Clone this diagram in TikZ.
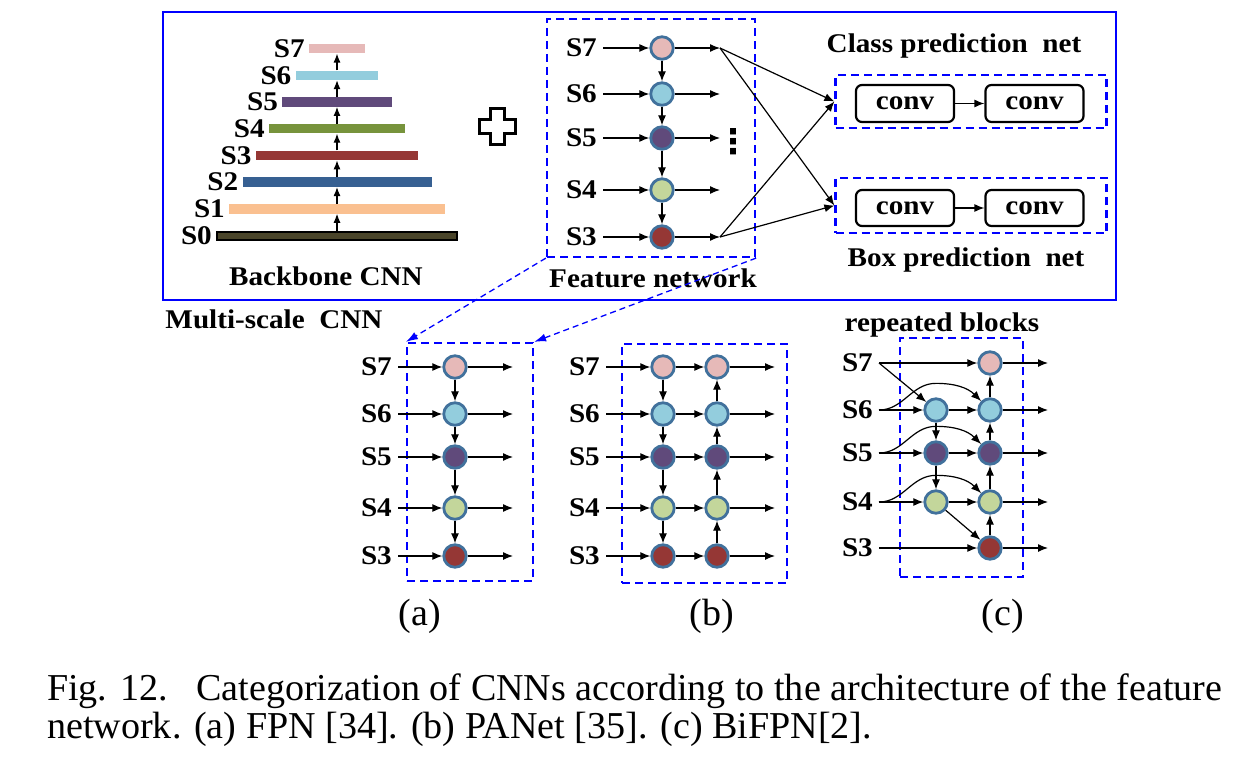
\documentclass[tikz,border=0pt]{standalone}
\usepackage{fontspec}
\usepackage{graphicx}
\setmainfont{Liberation Serif}
\newfontfamily\figfont{Liberation Serif}[FakeStretch=1.08]
\newfontfamily\symfont{DejaVu Sans}
\usetikzlibrary{arrows.meta,positioning,calc}
\definecolor{rowseven}{HTML}{E6B9B8}
\definecolor{rowsix}{HTML}{93CDDD}
\definecolor{rowfive}{HTML}{604A7B}
\definecolor{rowfour}{HTML}{C3D69B}
\definecolor{rowthree}{HTML}{953735}
\definecolor{barfour}{HTML}{77933C}
\definecolor{bartwo}{HTML}{376092}
\definecolor{barone}{HTML}{FAC090}
\definecolor{barzero}{HTML}{4A452A}
\definecolor{nodeedge}{HTML}{41719C}
\definecolor{netblue}{HTML}{0000FF}

\begin{document}
\begin{tikzpicture}[x=1pt, y=-1pt,
	lbl/.style={font=\figfont\bfseries\fontsize{27}{27}\selectfont, inner xsep=6pt, inner ysep=1pt, anchor=east},
	title/.style={font=\figfont\bfseries\fontsize{27}{27}\selectfont, inner sep=0pt, anchor=base},
	fnode/.style={circle, draw=nodeedge, line width=2.8pt, minimum size=22.5pt, inner sep=0pt},
	arr/.style={-{Latex[length=10pt,width=8pt]}, line width=1.2pt},
	bar/.style={inner sep=0pt, minimum height=9.5pt},
	dbox/.style={draw=netblue, line width=2.2pt, dash pattern=on 8pt off 5pt, inner sep=0pt},
	convbox/.style={draw, rounded corners=6pt, line width=2.2pt, minimum width=98pt, minimum height=37pt, inner sep=0pt, font=\figfont\bfseries\fontsize{27}{27}\selectfont},
	link/.style={draw=netblue, line width=1.3pt, dash pattern=on 6pt off 4pt, -{Latex[length=12pt,width=8pt]}},
	sub/.style={font=\fontsize{38}{38}\selectfont, inner sep=0pt, anchor=base},
]
\useasboundingbox (0,0) rectangle (1237,757);

% multi-scale CNN frame
\node[draw=netblue, line width=2.5pt, minimum width=953pt, minimum height=288pt, inner sep=0pt] (frame) at (639.5,156) {};

% backbone
\node[bar, fill=barzero, draw=black, line width=2pt, minimum width=240pt, minimum height=8pt] (b0) at (337,235.5) {};
\node[lbl, inner xsep=4pt] (bs0) at (b0.west) {S0};
\foreach \i/\col in {1/barone,2/bartwo,3/rowthree,4/barfour,5/rowfive,6/rowsix,7/rowseven} {
	\node[bar, fill=\col, minimum width={(56+26.6*(7-\i))*1pt}] (b\i) at (337,{235.5-26.7*\i}) {};
	\node[lbl, inner xsep=4pt] (bs\i) at (b\i.west) {S\i};
}
\foreach \i/\j in {0/1,1/2,2/3,3/4,4/5,5/6,6/7}
	\draw[-{Latex[length=9pt,width=7pt]}, line width=1.2pt] (b\i.north) -- (b\j.south);
\node[title] (backtitle) at (326,285) {Backbone CNN};

% plus
\draw[line width=3pt, fill=white, line join=miter] (497,127) ++(-7,-18) -- ++(14,0) -- ++(0,11) -- ++(11,0) -- ++(0,14) -- ++(-11,0) -- ++(0,11) -- ++(-14,0) -- ++(0,-11) -- ++(-11,0) -- ++(0,-14) -- ++(11,0) -- cycle;

% feature network
\node[dbox, minimum width=208pt, minimum height=238pt] (featbox) at (651,138) {};
\foreach \i/\y/\col in {7/48/rowseven,6/94/rowsix,5/138/rowfive,4/190/rowfour,3/237/rowthree} {
	\node[fnode, fill=\col] (fn\i) at (662,\y) {};
	\node[lbl] (fs\i) at (603,\y) {S\i};
	\coordinate (fo\i) at (720,\y);
	\draw[arr] (fs\i) -- (fn\i);
	\draw[arr] (fn\i) -- (fo\i);
}
\foreach \i/\j in {7/6,6/5,5/4,4/3}
	\draw[arr] (fn\i) -- (fn\j);
\node[font=\symfont\bfseries\fontsize{34}{34}\selectfont, inner sep=0pt] (dots) at (733,142) {⋮};
\node[title] (feattitle) at (653,287) {Feature network};

% prediction nets
\node[dbox, minimum width=271pt, minimum height=53pt] (classbox) at (971,101.5) {};
\node[dbox, minimum width=271pt, minimum height=55pt] (boxnet) at (971,205.5) {};
\node[convbox] (cc1) at (905,103.5) {conv};
\node[convbox] (cc2) at (1034.5,103.5) {conv};
\node[convbox, minimum height=36pt] (bc1) at (905,208) {conv};
\node[convbox, minimum height=36pt] (bc2) at (1034.5,208) {conv};
\draw[arr] (cc1) -- (cc2);
\draw[arr] (bc1) -- (bc2);
\draw[arr] (fo7) -- (classbox.west);
\draw[arr] (fo7) -- (boxnet.west);
\draw[arr] (fo3) -- (classbox.west);
\draw[arr] (fo3) -- (boxnet.west);
\node[title] (classtitle) at (954,53) {Class prediction\ \ net};
\node[title] (boxtitle) at (966,266) {Box prediction\ \ net};
\node[title] (msctitle) at (274,328) {Multi-scale\ \ CNN};

% (a) FPN
\node[dbox, minimum width=126pt, minimum height=238pt] (abox) at (470,462) {};
\foreach \i/\y/\col in {7/367/rowseven,6/414/rowsix,5/457/rowfive,4/508/rowfour,3/556/rowthree} {
	\node[fnode, fill=\col] (an\i) at (455,\y) {};
	\node[lbl] (as\i) at (398,\y) {S\i};
	\coordinate (ao\i) at (513,\y);
	\draw[arr] (as\i) -- (an\i);
	\draw[arr] (an\i) -- (ao\i);
}
\foreach \i/\j in {7/6,6/5,5/4,4/3}
	\draw[arr] (an\i) -- (an\j);
\node[sub] (alabel) at (420,625) {(a)};

% links
\draw[link] (featbox.south west) -- (abox.north west);
\draw[link] (featbox.south east) -- (abox.north east);

% (b) PANet
\node[dbox, minimum width=165pt, minimum height=239pt] (bbox) at (704.5,463.5) {};
\foreach \i/\y/\col in {7/367/rowseven,6/414/rowsix,5/457/rowfive,4/508/rowfour,3/556/rowthree} {
	\node[fnode, fill=\col] (bl\i) at (663,\y) {};
	\node[fnode, fill=\col] (br\i) at (717,\y) {};
	\node[lbl] (bs\i) at (606,\y) {S\i};
	\coordinate (bo\i) at (775,\y);
	\draw[arr] (bs\i) -- (bl\i);
	\draw[arr] (bl\i) -- (br\i);
	\draw[arr] (br\i) -- (bo\i);
}
\foreach \i/\j in {7/6,6/5,5/4,4/3} {
	\draw[arr] (bl\i) -- (bl\j);
	\draw[arr] (br\j) -- (br\i);
}
\node[sub] (blabel) at (712,625) {(b)};

% (c) BiFPN
\node[dbox, minimum width=123pt, minimum height=239pt] (cbox) at (961.5,457.5) {};
\node[title] (reptitle) at (942,331) {repeated blocks};
\foreach \i/\y/\col in {7/363/rowseven,6/410/rowsix,5/453/rowfive,4/502/rowfour,3/548/rowthree} {
	\node[fnode, fill=\col] (cr\i) at (990,\y) {};
	\node[lbl] (cs\i) at (879,\y) {S\i};
	\coordinate (co\i) at (1048,\y);
	\draw[arr] (cr\i) -- (co\i);
}
\foreach \i/\y/\col in {6/410/rowsix,5/453/rowfive,4/502/rowfour} {
	\node[fnode, fill=\col] (cl\i) at (936,\y) {};
	\draw[arr] (cs\i) -- (cl\i);
	\draw[arr] (cl\i) -- (cr\i);
	\draw[arr] (cs\i.east) to[out=0,in=180] ($(cl\i.north)+(0,-14)$) to[out=0,in=135] (cr\i);
}
\draw[arr] (cs7) -- (cr7);
\draw[arr] (cs7.east) -- (cl6);
\draw[arr] (cs3) -- (cr3);
\draw[arr] (cl6) -- (cl5);
\draw[arr] (cl5) -- (cl4);
\draw[arr] (cl4) -- (cr3);
\foreach \i/\j in {3/4,4/5,5/6,6/7}
	\draw[arr] (cr\i) -- (cr\j);
\node[sub] (clabel) at (1003,625) {(c)};

% caption
\node[anchor=base west, inner sep=0pt, font=\fontsize{38}{38}\selectfont] (capone) at (47,700) {\resizebox{1175pt}{\height}{Fig. 12.\ \ \ Categorization of CNNs according to the architecture of the feature}};
\node[anchor=base west, inner sep=0pt, font=\fontsize{38}{38}\selectfont] (captwo) at (47,738) {\resizebox{825pt}{\height}{network. (a) FPN [34]. (b) PANet [35]. (c) BiFPN[2].}};
\end{tikzpicture}
\end{document}
